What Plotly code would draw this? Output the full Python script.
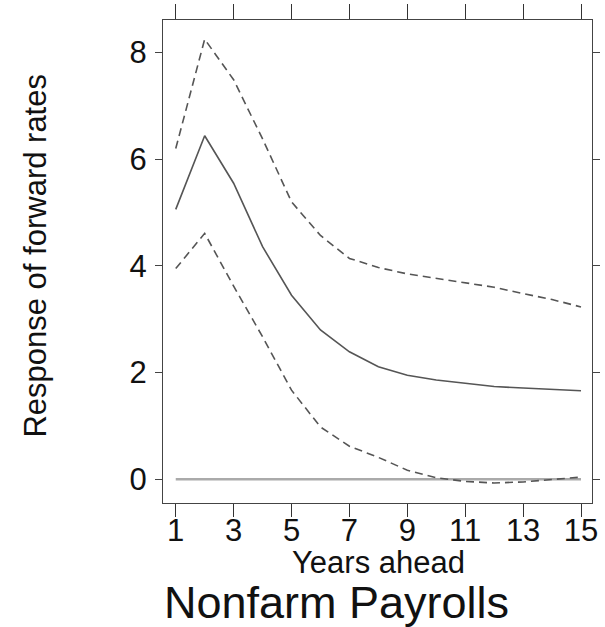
import plotly.graph_objects as go

years = list(range(1, 16))
estimate = [5.06, 6.44, 5.55, 4.36, 3.45, 2.80, 2.39, 2.11, 1.95, 1.86, 1.80, 1.74, 1.71, 1.68, 1.66]
upper = [6.20, 8.25, 7.49, 6.38, 5.20, 4.57, 4.14, 3.97, 3.85, 3.77, 3.68, 3.60, 3.48, 3.37, 3.23]
lower = [3.95, 4.61, 3.62, 2.67, 1.67, 0.98, 0.62, 0.41, 0.17, 0.03, -0.04, -0.07, -0.05, -0.01, 0.04]
zero = [0] * len(years)
xticks = [1, 3, 5, 7, 9, 11, 13, 15]
yticks = [0, 2, 4, 6, 8]

FONT = "Liberation Sans, Arial, sans-serif"
LINE = "#555555"

fig = go.Figure()
fig.add_trace(go.Scatter(x=years, y=zero, mode="lines",
                         line=dict(color="#aaaaaa", width=2.5), showlegend=False, hoverinfo="skip"))
fig.add_trace(go.Scatter(x=years, y=upper, mode="lines",
                         line=dict(color=LINE, width=1.6, dash="8px,5px"), showlegend=False))
fig.add_trace(go.Scatter(x=years, y=lower, mode="lines",
                         line=dict(color=LINE, width=1.6, dash="8px,5px"), showlegend=False))
fig.add_trace(go.Scatter(x=years, y=estimate, mode="lines",
                         line=dict(color=LINE, width=1.6), showlegend=False))
# invisible trace to activate top axis
fig.add_trace(go.Scatter(x=[years[0]], y=[zero[0]], xaxis="x2", mode="markers",
                         marker=dict(opacity=0), showlegend=False, hoverinfo="skip"))

xr = [0.56, 15.38]
fig.update_layout(
    width=605, height=627,
    margin=dict(l=163, r=5, t=20, b=124),
    paper_bgcolor="white", plot_bgcolor="white",
    font=dict(family=FONT, color="#111111"),
    xaxis=dict(range=xr, tickvals=xticks, ticks="outside", ticklen=13, tickwidth=1.2,
               tickcolor="#333333", showline=True, linecolor="#444444", linewidth=1.2,
               mirror=True, showgrid=False, zeroline=False,
               tickfont=dict(size=31, family=FONT, color="#111111"), ticklabelstandoff=-13),
    xaxis2=dict(range=xr, tickvals=xticks, overlaying="x", side="top", ticks="outside",
                ticklen=15, tickwidth=1.2, tickcolor="#333333", showticklabels=False,
                showgrid=False, zeroline=False, showline=False),
    yaxis=dict(range=[-0.445, 8.61], tickvals=yticks, ticks="outside", ticklen=7, tickwidth=1.2,
               tickcolor="#444444", showline=True, linecolor="#444444", linewidth=1.2,
               mirror="ticks", showgrid=False, zeroline=False,
               tickfont=dict(size=31, family=FONT, color="#111111"), ticklabelstandoff=2),
    annotations=[
        dict(text="Years ahead", xref="paper", yref="paper", x=0.502, y=-0.124,
             xanchor="center", yanchor="middle", showarrow=False,
             font=dict(size=31, family=FONT, color="#111111")),
        dict(text="Response of forward rates", xref="paper", yref="paper", x=-0.2975, y=0.513,
             xanchor="center", yanchor="middle", textangle=-90, showarrow=False,
             font=dict(size=31, family=FONT, color="#111111")),
        dict(text="Nonfarm Payrolls", xref="paper", yref="paper", x=0.405, y=-0.207,
             xanchor="center", yanchor="middle", showarrow=False,
             font=dict(size=45, family=FONT, color="#111111")),
    ],
)

fig.write_html("out.html")
